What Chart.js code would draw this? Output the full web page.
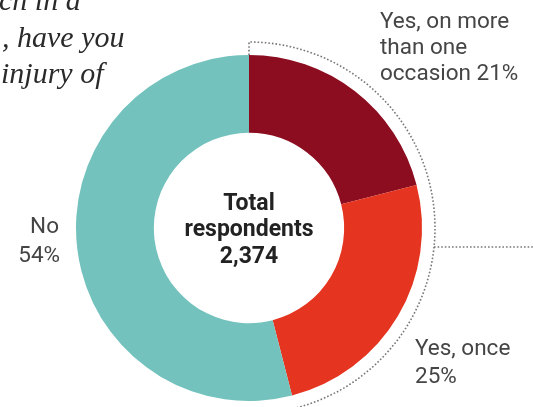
<!DOCTYPE html>
<html>
<head>
<meta charset="utf-8">
<script src="https://cdn.jsdelivr.net/npm/chart.js@4"></script>
<style>
  html, body { margin: 0; padding: 0; background: #fff; }
  #wrap { position: relative; width: 533px; height: 407px; overflow: hidden; }
</style>
</head>
<body>
<div id="wrap">
  <canvas id="donut" width="533" height="407"></canvas>
</div>
<script>
const labels = ['Yes, on more than one occasion', 'Yes, once', 'No'];
const shares = [21, 25, 54];
const colors = ['#8c0c20', '#e5341f', '#73c2bd'];
const totalRespondents = '2,374';
const questionLines = ['ch in a', ', have you', 'injury of'];

// text around the ring + dotted bracket for the "yes" answers
const annotations = {
  id: 'annotations',
  afterDraw(chart) {
    const ctx = chart.ctx;
    const arc = chart.getDatasetMeta(0).data[0];
    const cx = arc.x, cy = arc.y;
    const r = arc.outerRadius + 13;
    const yesShare = shares[0] + shares[1];
    const endAngle = -Math.PI / 2 + yesShare / 100 * Math.PI * 2;

    ctx.save();
    ctx.strokeStyle = '#777';
    ctx.lineWidth = 1.6;
    ctx.setLineDash([1.6, 2]);
    ctx.beginPath();
    ctx.moveTo(cx, cy - arc.outerRadius);
    ctx.lineTo(cx, cy - r);
    ctx.arc(cx, cy, r, -Math.PI / 2, endAngle);
    ctx.stroke();
    // branch to the right
    const hy = cy + 19;
    const hx = cx + Math.sqrt(r * r - 19 * 19);
    ctx.beginPath();
    ctx.moveTo(hx, hy);
    ctx.lineTo(533, hy);
    ctx.stroke();
    ctx.restore();

    ctx.save();
    // question text, clipped at the page edge
    ctx.fillStyle = '#2a2a2a';
    ctx.font = 'italic 30px "Liberation Serif", serif';
    ctx.textAlign = 'left';
    ctx.fillText(questionLines[0], -1, 10);
    ctx.fillText(questionLines[1], 2, 47);
    ctx.fillText(questionLines[2], 1, 83);

    // centre
    ctx.fillStyle = '#222';
    ctx.font = 'bold 23px Roboto, sans-serif';
    ctx.textAlign = 'center';
    ctx.fillText('Total', cx, 210);
    ctx.fillText('respondents', cx, 236);
    ctx.fillText(totalRespondents, cx, 263);

    // slice labels
    ctx.fillStyle = '#454545';
    ctx.font = '22.5px Roboto, sans-serif';
    ctx.textAlign = 'left';
    ctx.fillText('Yes, on more', 380, 28);
    ctx.fillText('than one', 380, 54);
    ctx.fillText('occasion ' + shares[0] + '%', 380, 80);
    ctx.fillText('Yes, once', 415, 355);
    ctx.fillText(shares[1] + '%', 415, 383);
    ctx.textAlign = 'right';
    ctx.fillText('No', 59, 233);
    ctx.fillText(shares[2] + '%', 60, 262);
    ctx.restore();
  }
};

new Chart(document.getElementById('donut'), {
  type: 'doughnut',
  data: {
    labels: labels,
    datasets: [{
      data: shares,
      backgroundColor: colors,
      borderWidth: 0,
      hoverOffset: 0
    }]
  },
  options: {
    responsive: false,
    animation: false,
    devicePixelRatio: 1,
    cutout: '55%',
    layout: { padding: { left: 76, right: 111, top: 55, bottom: 6 } },
    plugins: {
      legend: { display: false },
      tooltip: { enabled: false }
    }
  },
  plugins: [annotations]
});
</script>
</body>
</html>
